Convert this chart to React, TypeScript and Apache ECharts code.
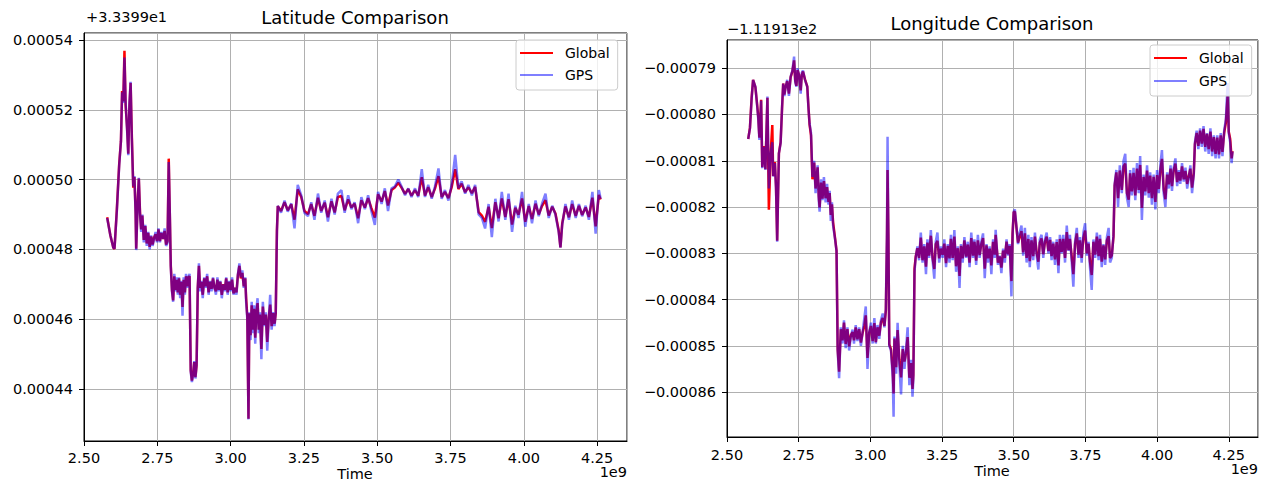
import React, { useEffect, useRef } from "react";
import * as echarts from "echarts";

// Latitude: [time (1e9), Global, GPS] — values in units of 1e-5 above offset +3.3399e1
const latEarly: number[][] = [
  [2.579, 48.92, 48.9], [2.59, 48.4, 48.4], [2.6, 48.05, 48.05], [2.604, 48.01, 48.02], [2.612, 49.14, 49.1],
  [2.62, 50.44, 50.4], [2.626, 51.1, 51.1], [2.63, 52.54, 52.5], [2.634, 52.24, 52.2], [2.638, 53.69, 53.5],
  [2.642, 52.13, 52.2], [2.647, 51.47, 51.4], [2.651, 50.74, 50.7], [2.655, 52.13, 52.2], [2.659, 52.77, 52.8],
  [2.663, 51.3, 51.2], [2.668, 49.77, 49.8], [2.672, 50.07, 50.1], [2.676, 49.07, 49.0], [2.678, 48.02, 47.98],
  [2.683, 49.34, 49.3], [2.687, 50.03, 50.05], [2.691, 49.07, 49.0], [2.695, 48.57, 48.5], [2.699, 48.97, 49.0],
  [2.704, 48.27, 48.2], [2.709, 48.67, 48.7], [2.714, 48.17, 48.1], [2.719, 48.47, 48.5], [2.724, 48.07, 48.0],
  [2.729, 48.37, 48.4], [2.734, 48.14, 48.1], [2.739, 48.34, 48.3], [2.744, 48.43, 48.5], [2.749, 48.24, 48.2],
  [2.754, 48.57, 48.6], [2.759, 48.24, 48.2], [2.764, 48.47, 48.5], [2.77, 48.3, 48.3], [2.775, 48.53, 48.6],
  [2.78, 48.14, 48.1], [2.785, 48.24, 48.2], [2.789, 50.6, 50.5], [2.793, 48.87, 48.9], [2.796, 47.54, 47.5],
  [2.8, 46.84, 46.8], [2.804, 46.54, 46.5], [2.808, 47.23, 47.3], [2.812, 46.84, 46.8], [2.816, 47.13, 47.2],
  [2.82, 46.77, 46.7], [2.824, 47.17, 47.2], [2.828, 46.7, 46.6], [2.832, 47.07, 47.1], [2.836, 46.35, 46.1],
  [2.84, 47.13, 47.2], [2.844, 46.77, 46.7], [2.848, 47.23, 47.3], [2.852, 46.94, 46.9], [2.856, 47.2, 47.2],
  [2.86, 47.23, 47.3], [2.864, 44.54, 44.5], [2.868, 44.24, 44.2], [2.872, 44.44, 44.4], [2.876, 44.77, 44.8],
  [2.88, 44.34, 44.3], [2.884, 44.67, 44.7], [2.888, 46.9, 46.9], [2.892, 47.53, 47.6], [2.896, 46.9, 46.8],
  [2.9, 47.07, 47.1], [2.905, 46.7, 46.6], [2.91, 47.17, 47.2], [2.915, 46.94, 46.9], [2.92, 47.23, 47.3],
  [2.925, 46.77, 46.7], [2.93, 47.07, 47.1], [2.935, 46.87, 46.8], [2.94, 47.17, 47.2], [2.945, 46.9, 46.9],
  [2.95, 46.8, 46.7], [2.955, 47.13, 47.2], [2.96, 46.84, 46.8], [2.965, 47.07, 47.1], [2.97, 46.7, 46.6],
  [2.975, 47.0, 47.0], [2.98, 46.84, 46.8], [2.985, 47.17, 47.2], [2.99, 46.77, 46.7], [2.995, 47.07, 47.1],
  [3.0, 46.84, 46.8], [3.005, 47.13, 47.2], [3.01, 46.74, 46.7], [3.015, 46.9, 46.9], [3.02, 46.77, 46.7],
  [3.025, 47.27, 47.3], [3.03, 47.53, 47.6], [3.035, 47.17, 47.2], [3.04, 47.33, 47.4], [3.045, 46.94, 46.9],
  [3.05, 47.17, 47.2], [3.053, 46.6, 46.5], [3.057, 46.07, 46.0], [3.061, 43.15, 43.13], [3.064, 46.17, 46.2],
  [3.068, 45.54, 45.4], [3.072, 46.4, 46.5], [3.076, 45.7, 45.6], [3.08, 46.3, 46.4], [3.084, 45.47, 45.3],
  [3.088, 46.2, 46.3], [3.092, 46.46, 46.6], [3.096, 45.7, 45.6], [3.1, 46.13, 46.2], [3.105, 45.15, 44.85],
  [3.11, 46.36, 46.5], [3.115, 45.84, 45.8], [3.12, 46.13, 46.2], [3.125, 45.35, 45.1], [3.13, 46.04, 46.0],
  [3.135, 46.42, 46.7], [3.14, 45.8, 45.7], [3.145, 46.17, 46.2], [3.15, 45.87, 45.8], [3.154, 46.17, 46.2],
  [3.158, 48.54, 48.5],
];
const latLate: number[][] = [
  [3.161, 49.24, 49.25], [3.172, 49.1, 49.05], [3.184, 49.35, 49.4], [3.195, 49.12, 49.08], [3.207, 49.29, 49.32],
  [3.218, 48.85, 48.6], [3.229, 49.72, 49.85], [3.241, 49.5, 49.55], [3.252, 49.1, 49.05], [3.264, 49.01, 48.95],
  [3.275, 49.3, 49.35], [3.286, 48.96, 48.85], [3.298, 49.48, 49.6], [3.309, 49.1, 49.05], [3.321, 49.34, 49.4],
  [3.332, 48.92, 48.8], [3.344, 49.38, 49.45], [3.355, 49.06, 49.0], [3.366, 49.5, 49.6], [3.378, 49.53, 49.7],
  [3.389, 49.12, 49.05], [3.401, 49.43, 49.55], [3.412, 49.2, 49.15], [3.423, 49.31, 49.35], [3.435, 48.89, 48.75],
  [3.446, 49.41, 49.5], [3.458, 49.2, 49.15], [3.469, 49.47, 49.55], [3.48, 49.19, 49.1], [3.492, 48.91, 48.7],
  [3.503, 49.58, 49.65], [3.515, 49.37, 49.3], [3.526, 49.67, 49.75], [3.537, 49.26, 49.1], [3.549, 49.7, 49.75],
  [3.56, 49.77, 49.8], [3.572, 49.91, 50.0], [3.583, 49.77, 49.8], [3.595, 49.59, 49.55], [3.606, 49.73, 49.75],
  [3.617, 49.54, 49.5], [3.629, 49.7, 49.75], [3.64, 49.54, 49.5], [3.652, 50.07, 50.3], [3.663, 49.54, 49.5],
  [3.674, 49.78, 49.85], [3.686, 49.5, 49.45], [3.697, 49.74, 49.8], [3.709, 50.1, 50.32], [3.72, 49.5, 49.45],
  [3.731, 49.65, 49.7], [3.743, 49.47, 49.4], [3.754, 49.78, 49.85], [3.766, 50.3, 50.71], [3.777, 49.73, 49.75],
  [3.788, 49.88, 49.95], [3.8, 49.64, 49.6], [3.811, 49.78, 49.85], [3.823, 49.61, 49.55], [3.834, 49.79, 49.85],
  [3.846, 49.07, 49.0], [3.857, 48.97, 48.9], [3.868, 48.79, 48.6], [3.88, 49.22, 49.3], [3.891, 48.61, 48.35],
  [3.903, 49.35, 49.45], [3.914, 48.89, 48.8], [3.925, 49.46, 49.65], [3.937, 48.93, 48.85], [3.948, 49.44, 49.6],
  [3.96, 48.71, 48.5], [3.971, 49.19, 49.25], [3.982, 48.99, 48.9], [3.994, 49.46, 49.65], [4.005, 48.79, 48.65],
  [4.017, 49.24, 49.3], [4.028, 48.87, 48.75], [4.04, 49.31, 49.4], [4.051, 49.0, 48.95], [4.062, 49.24, 49.3],
  [4.074, 49.41, 49.6], [4.085, 48.97, 48.9], [4.097, 49.22, 49.25], [4.108, 49.03, 49.0], [4.119, 48.54, 48.5],
  [4.125, 48.06, 48.05], [4.131, 48.74, 48.7], [4.142, 49.23, 49.3], [4.154, 48.92, 48.85], [4.165, 49.3, 49.4],
  [4.177, 48.96, 48.9], [4.188, 49.25, 49.3], [4.199, 48.99, 48.95], [4.211, 49.2, 49.25], [4.222, 48.93, 48.85],
  [4.234, 49.48, 49.65], [4.245, 48.66, 48.45], [4.256, 49.56, 49.7], [4.262, 49.43, 49.45],
];

// Longitude: [time (1e9), Global, GPS] — values in units of 1e-5 relative to offset −1.11913e2
const lonEarly: number[][] = [
  [2.574, -80.53, -80.53], [2.58, -80.29, -80.3], [2.586, -79.63, -79.65], [2.591, -79.25, -79.25], [2.599, -79.41, -79.4],
  [2.605, -79.78, -79.8], [2.609, -80.05, -80.1], [2.613, -80.5, -80.55], [2.619, -79.68, -79.7], [2.623, -81.14, -81.16],
  [2.629, -80.68, -80.7], [2.634, -81.18, -81.2], [2.641, -79.64, -79.61], [2.646, -82.06, -81.6], [2.652, -80.87, -80.85],
  [2.658, -80.23, -80.6], [2.661, -81.33, -81.34], [2.667, -81.03, -81.05], [2.671, -81.57, -81.6], [2.675, -82.73, -82.75],
  [2.681, -80.84, -80.84], [2.687, -80.6, -80.62], [2.692, -79.87, -79.85], [2.696, -79.33, -79.33], [2.7, -79.57, -79.6],
  [2.704, -79.42, -79.43], [2.71, -79.28, -79.25], [2.716, -79.55, -79.6], [2.722, -79.19, -79.18], [2.728, -79.07, -79.05],
  [2.734, -78.83, -78.75], [2.738, -79.27, -79.3], [2.742, -79.38, -79.4], [2.746, -79.04, -79.0], [2.751, -79.14, -79.15],
  [2.757, -79.48, -79.55], [2.761, -79.14, -79.1], [2.765, -79.07, -79.05], [2.772, -79.24, -79.25], [2.78, -79.4, -79.4],
  [2.784, -79.83, -79.85], [2.788, -80.22, -80.2], [2.793, -80.45, -80.4], [2.798, -81.4, -81.35], [2.804, -81.04, -81.0],
  [2.809, -81.6, -81.7], [2.816, -81.14, -81.1], [2.82, -81.76, -81.85], [2.823, -82.01, -82.1], [2.828, -81.47, -81.4],
  [2.833, -81.82, -81.85], [2.838, -81.44, -81.35], [2.844, -81.81, -81.9], [2.849, -81.57, -81.5], [2.854, -81.89, -81.95],
  [2.858, -81.7, -81.65], [2.862, -82.17, -82.3], [2.866, -81.94, -81.9], [2.87, -82.33, -82.4], [2.877, -82.68, -82.7],
  [2.882, -82.94, -82.95], [2.886, -85.07, -85.1], [2.891, -85.56, -85.7], [2.897, -84.64, -84.6], [2.903, -84.88, -84.95],
  [2.908, -84.5, -84.45], [2.914, -84.96, -85.05], [2.92, -84.64, -84.6], [2.926, -85.01, -85.1], [2.932, -84.77, -84.8],
  [2.938, -84.7, -84.65], [2.943, -84.88, -84.95], [2.949, -84.6, -84.55], [2.955, -84.86, -84.9], [2.961, -84.64, -84.6],
  [2.967, -84.93, -85.0], [2.973, -84.72, -84.7], [2.979, -84.56, -84.4], [2.984, -84.34, -84.15], [2.99, -85.26, -85.5],
  [2.996, -84.72, -84.7], [3.002, -84.57, -84.5], [3.008, -84.9, -84.95], [3.014, -84.51, -84.4], [3.019, -84.92, -84.95],
  [3.025, -84.6, -84.55], [3.031, -84.78, -84.85], [3.037, -84.49, -84.45], [3.043, -84.4, -84.3], [3.049, -84.57, -84.6],
  [3.054, -84.24, -84.2], [3.058, -82.68, -82.5], [3.06, -81.2, -80.48], [3.063, -82.67, -82.7], [3.066, -84.97, -85.0],
  [3.072, -85.07, -85.1], [3.078, -85.56, -85.7], [3.081, -86.03, -86.53], [3.084, -84.84, -84.8], [3.09, -85.46, -85.6],
  [3.095, -84.66, -84.5], [3.101, -85.3, -85.4], [3.107, -85.68, -86.05], [3.113, -85.07, -85.0], [3.119, -85.34, -85.5],
  [3.124, -85.17, -85.1], [3.13, -84.81, -84.6], [3.136, -85.69, -85.85], [3.142, -85.37, -85.3], [3.147, -85.93, -86.1],
  [3.15, -85.63, -85.7], [3.154, -83.33, -83.4], [3.158, -83.08, -83.1],
];
const lonLate: number[][] = [
  [3.164, -82.89, -82.85], [3.17, -83.1, -83.15], [3.176, -82.66, -82.55], [3.182, -83.15, -83.2], [3.188, -82.85, -82.8],
  [3.194, -83.29, -83.45], [3.199, -82.77, -82.7], [3.205, -83.05, -83.1], [3.211, -82.62, -82.5], [3.217, -83.1, -83.15],
  [3.223, -83.34, -83.55], [3.228, -82.8, -82.75], [3.234, -82.73, -82.55], [3.24, -83.11, -83.2], [3.246, -82.9, -82.85],
  [3.252, -83.03, -83.1], [3.258, -82.79, -82.7], [3.264, -83.21, -83.3], [3.27, -82.84, -82.8], [3.276, -83.11, -83.2],
  [3.281, -82.69, -82.6], [3.287, -83.1, -83.15], [3.293, -82.64, -82.5], [3.299, -83.28, -83.4], [3.305, -82.89, -82.85],
  [3.311, -83.49, -83.75], [3.316, -82.84, -82.8], [3.322, -83.11, -83.2], [3.328, -82.72, -82.65], [3.334, -83.07, -83.1],
  [3.34, -82.81, -82.75], [3.346, -83.2, -83.3], [3.352, -82.67, -82.55], [3.358, -83.05, -83.1], [3.363, -82.75, -82.7],
  [3.369, -83.16, -83.25], [3.375, -82.72, -82.6], [3.381, -83.04, -83.1], [3.387, -82.8, -82.75], [3.393, -82.67, -82.57],
  [3.399, -83.33, -83.54], [3.405, -82.83, -82.8], [3.41, -83.11, -83.2], [3.416, -82.9, -82.85], [3.422, -83.26, -83.45],
  [3.428, -82.75, -82.7], [3.434, -83.03, -83.1], [3.437, -82.6, -82.49], [3.445, -83.2, -83.25], [3.451, -83.07, -83.05],
  [3.457, -83.31, -83.43], [3.463, -82.94, -82.9], [3.469, -83.1, -83.2], [3.475, -82.75, -82.7], [3.481, -83.02, -83.05],
  [3.486, -82.84, -82.8], [3.492, -83.6, -83.93], [3.496, -82.57, -82.6], [3.5, -82.11, -82.1], [3.504, -82.1, -82.05],
  [3.51, -82.47, -82.45], [3.515, -82.77, -82.8], [3.521, -82.64, -82.55], [3.527, -82.52, -82.4], [3.533, -82.98, -83.05],
  [3.539, -82.57, -82.45], [3.545, -83.1, -83.2], [3.551, -82.69, -82.6], [3.556, -83.17, -83.3], [3.562, -82.72, -82.65],
  [3.568, -83.06, -83.15], [3.574, -82.64, -82.55], [3.58, -82.99, -83.05], [3.586, -83.18, -83.35], [3.591, -82.77, -82.7],
  [3.597, -82.68, -82.6], [3.603, -83.02, -83.1], [3.609, -82.75, -82.7], [3.615, -82.64, -82.55], [3.621, -82.95, -83.0],
  [3.627, -82.71, -82.65], [3.632, -83.06, -83.15], [3.638, -82.79, -82.75], [3.644, -83.13, -83.25], [3.65, -82.76, -82.7],
  [3.656, -83.26, -83.43], [3.661, -82.69, -82.6], [3.667, -82.97, -83.0], [3.673, -82.69, -82.6], [3.679, -83.1, -83.2],
  [3.685, -82.54, -82.4], [3.691, -82.93, -82.95], [3.696, -82.69, -82.6], [3.702, -83.06, -83.15], [3.708, -83.45, -83.72],
  [3.714, -82.8, -82.75], [3.72, -82.57, -82.45], [3.726, -83.03, -83.1], [3.731, -82.72, -82.65], [3.737, -83.1, -83.2],
  [3.743, -82.66, -82.55], [3.749, -82.51, -82.35], [3.755, -83.0, -83.05], [3.761, -82.79, -82.75], [3.766, -83.18, -83.3],
  [3.772, -83.47, -83.79], [3.778, -82.75, -82.7], [3.784, -83.03, -83.1], [3.79, -82.64, -82.55], [3.796, -83.06, -83.15],
  [3.801, -82.69, -82.6], [3.807, -83.18, -83.3], [3.813, -82.83, -82.8], [3.819, -83.13, -83.25], [3.825, -82.72, -82.65],
  [3.831, -82.63, -82.45], [3.836, -83.1, -83.2], [3.842, -83.05, -83.1], [3.848, -82.64, -82.6], [3.852, -81.54, -81.5],
  [3.858, -81.25, -81.2], [3.864, -81.81, -82.0], [3.87, -81.21, -81.1], [3.877, -81.63, -81.7], [3.883, -81.12, -81.0],
  [3.889, -81.06, -80.85], [3.895, -81.7, -81.8], [3.901, -81.84, -82.0], [3.906, -81.27, -81.2], [3.912, -81.66, -81.75],
  [3.918, -81.26, -81.15], [3.924, -81.75, -81.85], [3.93, -81.17, -81.05], [3.936, -81.63, -81.7], [3.941, -81.09, -80.9],
  [3.947, -82.02, -82.28], [3.953, -81.35, -81.3], [3.959, -81.66, -81.75], [3.965, -81.21, -81.1], [3.971, -81.7, -81.8],
  [3.976, -81.32, -81.25], [3.982, -81.81, -81.95], [3.988, -81.35, -81.3], [3.994, -81.89, -82.05], [4.0, -81.31, -81.2],
  [4.006, -81.61, -81.7], [4.012, -81.17, -81.05], [4.017, -80.96, -80.77], [4.023, -81.61, -81.7], [4.029, -81.83, -82.0],
  [4.035, -81.3, -81.25], [4.041, -81.51, -81.6], [4.047, -81.17, -81.1], [4.052, -81.55, -81.65], [4.058, -81.2, -81.15],
  [4.064, -81.06, -80.95], [4.07, -81.46, -81.55], [4.076, -81.25, -81.2], [4.081, -81.43, -81.5], [4.087, -81.12, -81.05],
  [4.093, -81.4, -81.45], [4.099, -81.22, -81.15], [4.105, -81.5, -81.6], [4.111, -81.32, -81.35], [4.116, -81.17, -81.1],
  [4.122, -81.58, -81.7], [4.128, -81.27, -81.3], [4.132, -80.64, -80.6], [4.138, -80.4, -80.35], [4.144, -80.68, -80.75],
  [4.15, -80.35, -80.3], [4.156, -80.63, -80.7], [4.162, -80.31, -80.25], [4.168, -80.7, -80.8], [4.174, -80.42, -80.4],
  [4.18, -80.75, -80.85], [4.186, -80.37, -80.3], [4.192, -80.8, -80.9], [4.198, -80.49, -80.45], [4.204, -80.85, -80.95],
  [4.21, -80.5, -80.45], [4.216, -80.86, -80.95], [4.222, -80.45, -80.4], [4.228, -80.81, -80.9], [4.234, -80.4, -80.35],
  [4.24, -80.17, -80.1], [4.246, -79.6, -79.32], [4.25, -80.37, -80.4], [4.255, -80.53, -80.6], [4.26, -80.95, -81.05],
  [4.263, -80.79, -80.8],
];

const titles = ["Latitude Comparison", "Longitude Comparison"];
const offsetTexts = ["+3.3399e1", "\u22121.11913e2"];
const xAxisTitle = "Time";
const xScaleText = "1e9";
const seriesNames = ["Global", "GPS"];

const FONT = "DejaVu Sans";

export default function App() {
  const ref = useRef<HTMLDivElement>(null);

  useEffect(() => {
    if (!ref.current) return;
    const chart = echarts.init(ref.current, undefined, { renderer: "svg" });
    const lat = latEarly.concat(latLate);
    const lon = lonEarly.concat(lonLate);

    const fmtY = (v: number) => (v / 1e5).toFixed(5).replace("-", "\u2212");

    const xAxisBase = (gridIndex: number, labelMargin: number) => ({
      gridIndex,
      type: "value",
      min: 2.5,
      max: 4.352,
      interval: 0.25,
      axisLine: { show: true, onZero: false, lineStyle: { color: "#000", width: 1 } },
      axisTick: { show: true, inside: false, length: 5, lineStyle: { color: "#000", width: 1 } },
      axisLabel: {
        formatter: (v: number) => v.toFixed(2),
        showMaxLabel: false,
        color: "#000",
        fontFamily: FONT,
        fontSize: 14.5,
        margin: labelMargin,
      },
      splitLine: { show: true, lineStyle: { color: "#b0b0b0", width: 1 } },
    });

    const yAxisBase = (gridIndex: number, min: number, max: number, splitNumber: number) => ({
      gridIndex,
      type: "value",
      min,
      max,
      splitNumber,
      axisLine: { show: true, onZero: false, lineStyle: { color: "#000", width: 1 } },
      axisTick: { show: true, inside: false, length: 5, lineStyle: { color: "#000", width: 1 } },
      axisLabel: {
        formatter: fmtY,
        showMinLabel: false,
        showMaxLabel: false,
        color: "#000",
        fontFamily: FONT,
        fontSize: 14.5,
        margin: 11,
      },
      splitLine: { show: true, lineStyle: { color: "#b0b0b0", width: 1 } },
    });

    const legendBase = (left: number, top: number, gap: number) => ({
      data: seriesNames,
      orient: "vertical",
      left,
      top,
      icon: "rect",
      itemWidth: 33,
      itemHeight: 2,
      itemGap: gap,
      padding: [6, 8, 8, 4],
      backgroundColor: "rgba(255,255,255,0.8)",
      borderColor: "#cccccc",
      borderWidth: 1,
      borderRadius: 3,
      selectedMode: false,
      textStyle: { fontFamily: FONT, fontSize: 14, color: "#000", padding: [0, 0, 0, 7] },
    });

    const lineSeries = (name: string, rows: number[][], col: number, idx: number, color: string, z: number) => ({
      type: "line",
      name,
      xAxisIndex: idx,
      yAxisIndex: idx,
      data: rows.map((r) => [r[0], r[col]]),
      showSymbol: false,
      symbol: "none",
      lineStyle: { color, width: 2.5 },
      itemStyle: { color },
      z,
    });

    const txt = (text: string, x: number, y: number, size: number, align: string) => ({
      type: "text",
      x,
      y,
      style: { text, fill: "#000", font: `${size}px "${FONT}"`, textAlign: align, textVerticalAlign: "middle" },
    });

    chart.setOption({
      animation: false,
      grid: [
        { left: 84, top: 33, width: 543, height: 408, show: true, borderColor: "#000", borderWidth: 1, containLabel: false, outerBoundsMode: "none" },
        { left: 727, top: 40, width: 531, height: 397, show: true, borderColor: "#000", borderWidth: 1, containLabel: false, outerBoundsMode: "none" },
      ],
      xAxis: [xAxisBase(0, 9), xAxisBase(1, 10)],
      yAxis: [yAxisBase(0, 42.51, 54.2, 5), yAxisBase(1, -86.97, -78.39, 8)],
      legend: [legendBase(516, 40, 8), legendBase(1150, 45, 9)],
      series: [
        lineSeries(seriesNames[0], lat, 1, 0, "#ff0000", 2),
        lineSeries(seriesNames[1], lat, 2, 0, "rgba(0,0,255,0.5)", 3),
        lineSeries(seriesNames[0], lon, 1, 1, "#ff0000", 2),
        lineSeries(seriesNames[1], lon, 2, 1, "rgba(0,0,255,0.5)", 3),
      ],
      graphic: [
        txt(titles[0], 355, 17, 18, "center"),
        txt(titles[1], 992, 23, 18, "center"),
        txt(offsetTexts[0], 86, 17, 14.5, "left"),
        txt(offsetTexts[1], 727, 29, 14.5, "left"),
        txt(xAxisTitle, 355, 474, 14.5, "center"),
        txt(xAxisTitle, 992, 471, 14.5, "center"),
        txt(xScaleText, 627, 472, 14.5, "right"),
        txt(xScaleText, 1258, 469, 14.5, "right"),
      ],
    });

    return () => chart.dispose();
  }, []);

  return (
    <div
      ref={ref}
      style={{ position: "absolute", left: 0, top: 0, width: 1265, height: 483, background: "#fff" }}
    />
  );
}
